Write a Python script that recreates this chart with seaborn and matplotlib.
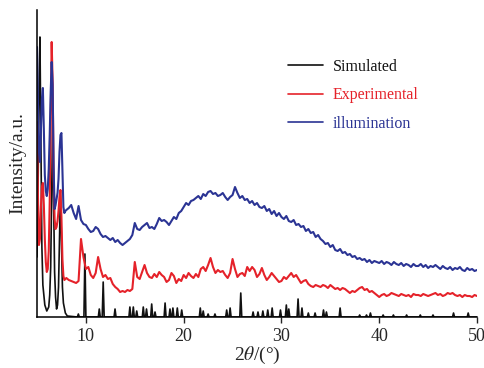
"""
XRD comparison: simulated pattern vs. experimental vs. after illumination.
"""
import matplotlib

matplotlib.use("Agg")
import matplotlib.pyplot as plt
import numpy as np
import pandas as pd
import seaborn as sns

# simulated pattern: low-angle part as points, the rest as (position, height) peaks
SIM_LOW_X = [5.0, 5.1, 5.2, 5.3, 5.4, 5.5, 5.6, 5.8, 6.0, 6.2, 6.3, 6.4, 6.5, 6.6,
             6.7, 6.8, 6.9, 7.0, 7.1, 7.2, 7.3, 7.4, 7.5, 7.6, 7.7, 7.9, 8.1]
SIM_LOW_Y = [60, 120, 220, 280, 170, 70, 32, 12, 6, 10, 22, 50, 120, 200,
             115, 45, 20, 8, 12, 30, 75, 125, 75, 30, 14, 4, 1]
SIM_PEAK_POS = [9.23, 9.9, 11.37, 11.77, 12.98, 14.5, 14.85, 15.2, 15.87, 16.2,
                16.73, 17.07, 18.1, 18.6, 18.9, 19.35, 19.8, 21.7, 22.0, 22.5,
                23.2, 24.4, 24.75, 25.84, 27.1, 27.6, 28.1, 28.6, 29.05, 29.9,
                30.5, 30.75, 31.7, 32.1, 32.75, 33.44, 34.3, 34.6, 36.0, 38.0,
                38.7, 39.1, 40.4, 41.45, 42.8, 44.2, 45.5, 47.6, 49.1]
SIM_PEAK_H = [3, 63, 8, 35, 8, 10, 10, 6, 10, 8,
              13, 5, 14, 8, 9, 9, 7, 9, 6, 3,
              3, 7, 9, 24, 5, 5, 6, 7, 9, 7,
              12, 8, 18, 9, 4, 4, 7, 5, 9, 2,
              2, 4, 2, 2, 2, 2, 2, 4, 4]

# measured curves share one 2theta grid: 0.1 deg steps to 7.9, then 0.25 deg to 50
TWO_THETA = np.round(np.concatenate([np.arange(5.0, 7.95, 0.1),
                                     np.arange(8.0, 50.01, 0.25)]), 2)

EXPERIMENTAL = [
    195, 120, 72, 78, 110, 130, 134, 112, 78, 55,
    45, 48, 66, 115, 195, 275, 235, 140, 98, 88,
    90, 96, 106, 120, 127, 100, 58, 41, 37, 38,
    39, 37, 36, 35, 34, 36, 78, 60,
    48, 50, 42, 39, 44, 60, 48, 40,
    42, 38, 39, 33, 30, 28, 25, 26,
    25, 27, 26, 28, 55, 40, 38, 45,
    52, 44, 40, 39, 43, 40, 45, 42,
    40, 35, 37, 44, 41, 34, 38, 36,
    42, 39, 44, 41, 39, 43, 40, 48,
    50, 46, 52, 59, 50, 44, 47, 45,
    46, 42, 39, 44, 58, 48, 40, 43,
    44, 41, 50, 46, 50, 47, 40, 43,
    49, 42, 37, 40, 44, 41, 38, 35,
    36, 40, 38, 41, 44, 40, 42, 38,
    34, 36, 37, 33, 31, 30, 32, 31,
    30, 32, 31, 29, 32, 30, 28, 29,
    27, 29, 28, 26, 24, 26, 25, 27,
    29, 30, 27, 28, 25, 26, 24, 22,
    20, 22, 23, 21, 22, 24, 23, 22,
    21, 23, 22, 21, 22, 20, 23, 22,
    22, 21, 23, 22, 21, 22, 23, 24,
    22, 23, 21, 22, 24, 23, 24, 22,
    21, 22, 20, 22, 21, 21, 20, 22,
    21,
]

ILLUMINATION = [
    270, 212, 165, 155, 185, 218, 229, 188, 142, 126,
    121, 128, 148, 182, 225, 255, 232, 150, 108, 112,
    118, 124, 138, 165, 182, 184, 148, 110, 104, 106,
    107, 109, 112, 104, 98, 111, 97, 93,
    92, 88, 85, 86, 90, 88, 83, 80,
    81, 79, 77, 79, 75, 77, 74, 72,
    74, 76, 78, 82, 94, 88, 87, 90,
    92, 94, 89, 90, 88, 93, 99, 96,
    97, 95, 92, 96, 100, 98, 104, 106,
    110, 114, 112, 116, 117, 119, 121, 118,
    123, 121, 125, 126, 123, 124, 121, 122,
    124, 120, 117, 120, 122, 130, 124, 119,
    121, 117, 118, 114, 116, 112, 114, 110,
    109, 111, 106, 108, 103, 106, 101, 104,
    100, 98, 101, 96, 95, 97, 92, 93,
    90, 91, 86, 88, 84, 85, 80, 82,
    78, 76, 73, 74, 70, 72, 67, 66,
    68, 64, 65, 62, 63, 60, 61, 58,
    59, 57, 58, 55, 57, 54, 56, 55,
    54, 56, 53, 55, 54, 52, 55, 53,
    52, 54, 51, 53, 52, 50, 53, 51,
    51, 53, 50, 52, 49, 51, 50, 52,
    50, 48, 51, 49, 48, 50, 47, 49,
    48, 50, 47, 46, 49, 47, 48, 46,
    47,
]

LABELS = ["Simulated", "Experimental", "illumination"]
COLORS = ["#111111", "#e5222a", "#2b3494"]


def simulated_frame() -> pd.DataFrame:
    xs, ys = list(SIM_LOW_X), list(SIM_LOW_Y)
    for p, h in zip(SIM_PEAK_POS, SIM_PEAK_H):
        xs += [p - 0.1, p, p + 0.1]
        ys += [0, h, 0]
    xs.append(50.0)
    ys.append(0)
    return pd.DataFrame({"two_theta": xs, "intensity": ys})


def main() -> None:
    assert len(EXPERIMENTAL) == len(TWO_THETA) == len(ILLUMINATION)

    sns.set_style("ticks")
    plt.rcParams["font.family"] = ["Liberation Serif", "DejaVu Serif"]
    plt.rcParams["mathtext.fontset"] = "stix"

    fig = plt.figure(figsize=(4.85, 3.68), dpi=100)
    ax = fig.add_axes([37 / 485, 51 / 368, 440 / 485, 307 / 368])

    frames = [
        simulated_frame(),
        pd.DataFrame({"two_theta": TWO_THETA, "intensity": EXPERIMENTAL}),
        pd.DataFrame({"two_theta": TWO_THETA, "intensity": ILLUMINATION}),
    ]
    widths = [1.2, 1.5, 1.5]
    for df, label, color, lw in zip(frames, LABELS, COLORS, widths):
        sns.lineplot(data=df, x="two_theta", y="intensity", ax=ax, color=color,
                     lw=lw, label=label, sort=False, estimator=None)

    ax.set_xlim(5, 50)
    ax.set_ylim(0, 307)
    ax.set_xticks([10, 20, 30, 40, 50])
    ax.set_yticks([])
    ax.tick_params(axis="x", direction="out", length=4, width=1, labelsize=13, pad=4)
    sns.despine(ax=ax)
    for side in ("left", "bottom"):
        ax.spines[side].set_linewidth(1.1)
        ax.spines[side].set_color("black")

    ax.set_xlabel(r"2$\theta$/(°)", fontsize=14, labelpad=0)
    ax.set_ylabel("Intensity/a.u.", fontsize=14, labelpad=8)

    leg = ax.legend(loc="upper left", bbox_to_anchor=(288 / 485, 1 - 59 / 368),
                    bbox_transform=fig.transFigure, frameon=False, fontsize=11.5,
                    handlelength=2.2, handletextpad=0.6, labelspacing=0.78,
                    borderpad=0, borderaxespad=0)
    for text, color in zip(leg.get_texts(), COLORS):
        text.set_color(color)
    for line in leg.get_lines():
        line.set_linewidth(1.2)

    fig.savefig("out.png", dpi=100)
    plt.close(fig)


if __name__ == "__main__":
    main()
